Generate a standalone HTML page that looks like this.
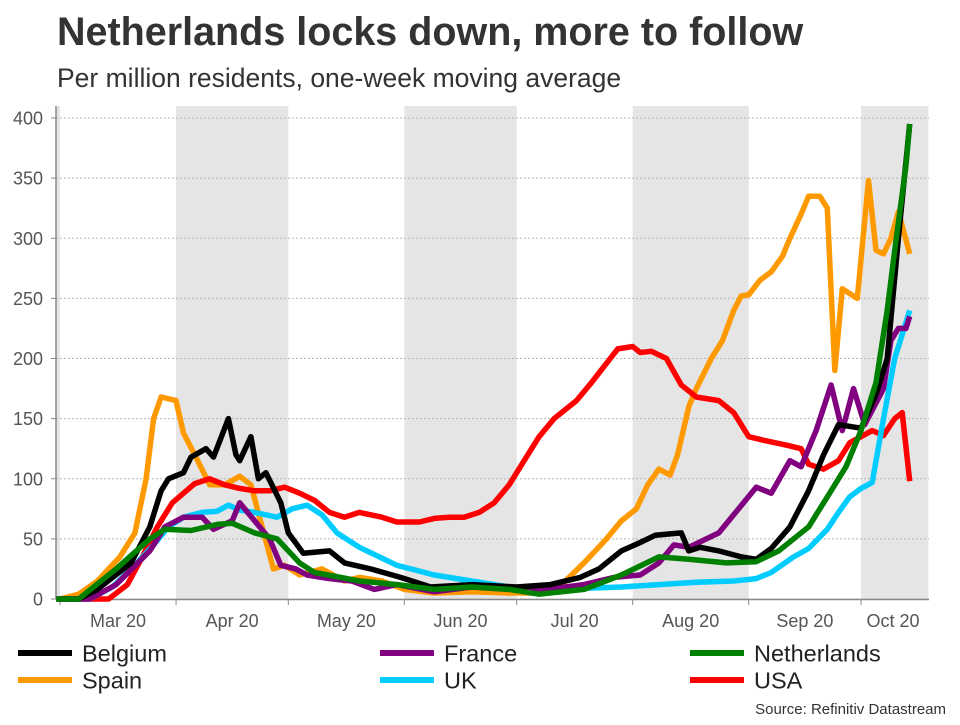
<!DOCTYPE html>
<html><head><meta charset="utf-8"><style>
body{margin:0;background:#fff;width:960px;height:720px;overflow:hidden;font-family:"Liberation Sans",sans-serif}
</style></head><body>
<svg id="c" width="960" height="720" xmlns="http://www.w3.org/2000/svg">
<text x="57" y="45" font-size="39.5" font-weight="bold" fill="#333">Netherlands locks down, more to follow</text>
<text x="57" y="87" font-size="26.5" fill="#333">Per million residents, one-week moving average</text>
<text x="946" y="714" font-size="15" fill="#333" text-anchor="end">Source: Refinitiv Datastream</text>
</svg>
<script>
const yTicks=[0,50,100,150,200,250,300,350,400];
const months=["Mar 20","Apr 20","May 20","Jun 20","Jul 20","Aug 20","Sep 20","Oct 20"];
const monthStart=[0,31,61,92,122,153,184,214];
const shadedMonths=[[-5,0],[31,61],[92,122],[153,184],[214,232]];
const belgiumD=[0,5,10,19,24,27,29,33,35,39,41,45,47,48,51,53,55,59,61,65,72,76,83,91,99,110,122,131,139,144,150,155,159,166,168,171,176,182,186,190,195,200,204,208,214,218,221,224,227];
const belgiumV=[0,0,8,30,60,90,100,105,118,125,118,150,120,115,135,100,105,80,55,38,40,30,25,18,10,12,10,12,18,25,40,47,53,55,40,43,40,35,33,42,60,90,120,145,142,170,200,300,395];
const nethD=[-1,5,15,24,28,35,42,46,52,58,64,68,80,90,100,110,120,128,140,150,160,168,178,186,192,200,206,210,214,218,221,223,226,227];
const nethV=[0,0,25,50,58,57,62,63,55,50,30,22,15,12,8,10,8,4,8,20,35,33,30,31,40,60,90,110,140,180,240,290,360,395];
const franceD=[-1,8,15,24,28,33,38,41,46,48,52,56,59,63,66,72,78,84,90,100,110,120,130,140,148,155,160,164,168,176,180,186,190,195,198,202,206,209,212,215,220,222,224,226,227];
const franceV=[0,0,12,40,60,68,68,58,65,80,65,50,28,25,20,17,15,8,12,6,10,8,8,12,18,20,30,45,43,55,70,93,88,115,110,140,178,140,175,145,175,215,225,225,235];
const spainD=[-1,0,5,10,16,20,23,25,27,31,33,36,40,44,48,51,54,57,60,64,70,76,80,86,92,100,110,120,128,134,140,146,150,154,157,160,163,165,168,170,174,177,180,182,184,187,190,193,195,198,200,203,205,207,209,213,216,218,220,222,224,227];
const spainV=[0,0,4,15,35,55,100,150,168,165,138,120,95,95,102,95,60,25,28,20,25,15,18,15,8,5,6,5,5,12,30,50,65,75,95,108,103,120,160,175,200,215,240,252,253,265,272,285,300,320,335,335,325,190,258,250,348,290,287,300,322,287];
const ukD=[-1,8,14,20,25,29,33,38,42,45,48,52,58,62,66,70,74,80,90,100,110,120,130,140,150,160,170,180,186,190,196,200,205,208,211,214,217,220,223,225,227];
const ukV=[0,0,10,28,45,60,68,72,73,78,74,72,68,75,78,70,55,43,28,20,15,10,8,9,10,12,14,15,17,22,35,42,58,72,85,92,97,150,200,220,240];
const usaD=[-1,13,18,22,26,30,33,36,40,44,48,52,56,60,64,68,72,76,80,86,90,96,100,104,108,112,116,120,124,128,132,138,142,146,149,153,155,158,162,166,170,176,180,184,188,194,198,200,204,208,211,214,217,220,223,225,227];
const usaV=[0,0,12,35,60,80,88,96,100,95,92,90,90,93,88,82,72,68,72,68,64,64,67,68,68,72,80,95,115,135,150,165,180,196,208,210,205,206,200,178,168,165,155,135,132,128,125,112,108,115,130,135,140,136,150,155,98];
const seriesNames=["Belgium","France","Netherlands","Spain","UK","USA"];

const NS="http://www.w3.org/2000/svg";
const svg=document.getElementById('c');
const X0=60,PXD=3.743,Y0=599,PXV=1.2025,LEFT=56,RIGHT=929,TOP=106;
const xS=d=>X0+d*PXD, yS=v=>Y0-v*PXV;
function mk(t,a,p){const e=document.createElementNS(NS,t);for(const k in a)e.setAttribute(k,a[k]);(p||svg).appendChild(e);return e;}
const g=mk('g',{});


shadedMonths.forEach(s=>{
  const x1=Math.max(LEFT,xS(s[0])),x2=Math.min(RIGHT,xS(s[1]));
  const r=mk('rect',{x:x1,y:TOP,width:x2-x1,height:Y0-TOP,fill:'#e5e5e5'},g);
  
  
});
yTicks.forEach(v=>{
  const l=mk('line',{x1:LEFT,x2:RIGHT,y1:yS(v),y2:yS(v),stroke:'#b5b5b5','stroke-dasharray':'2,2','stroke-width':1},g);
  
  
  const t=mk('text',{x:43,y:yS(v)+6.5,'font-size':18,fill:'#555','text-anchor':'end'},g);
  t.textContent=v;
  
  
  mk('line',{x1:LEFT-5,x2:LEFT,y1:yS(v),y2:yS(v),stroke:'#888'},g);
});
mk('line',{x1:LEFT,x2:LEFT,y1:TOP,y2:Y0,stroke:'#888','stroke-width':1.5},g);
mk('line',{x1:LEFT,x2:RIGHT,y1:Y0+0.5,y2:Y0+0.5,stroke:'#888','stroke-width':1.5},g);
months.forEach((m,i)=>{
  const xs=xS(monthStart[i]);
  mk('line',{x1:xs,x2:xs,y1:Y0,y2:Y0+6,stroke:'#888'},g);
  const next=i<7?monthStart[i+1]:monthStart[i]+31;
  const xc=Math.min((xs+xS(next))/2,893);
  const t=mk('text',{x:xc,y:627,'font-size':18,fill:'#555','text-anchor':'middle'},g);
  t.textContent=m;
  
  
});
function line(D,V,col,name){
  const p=mk('polyline',{points:D.map((d,i)=>xS(d).toFixed(1)+','+yS(V[i]).toFixed(1)).join(' '),fill:'none',stroke:col,'stroke-width':5.5,'stroke-linejoin':'round'},g);
  
  
}
line(spainD,spainV,'#ff9900','spain-line');
line(usaD,usaV,'#ff0000','usa-line');
line(ukD,ukV,'#00ccff','uk-line');
line(franceD,franceV,'#800080','france-line');
line(belgiumD,belgiumV,'#000000','belgium-line');
line(nethD,nethV,'#008000','netherlands-line');
const cols=['#000000','#800080','#008000','#ff9900','#00ccff','#ff0000'];
const lx=[18,380,690],ly=[653,680];
seriesNames.forEach((n,i)=>{
  const x=lx[i%3],y=ly[Math.floor(i/3)];
  const lg=mk('g',{});
  
  
  mk('line',{x1:x,x2:x+54,y1:y,y2:y,stroke:cols[i],'stroke-width':6},lg);
  const t=mk('text',{x:x+64,y:y+8.5,'font-size':23.5,fill:'#222'},lg);
  t.textContent=n;
});
</script>
</body></html>
